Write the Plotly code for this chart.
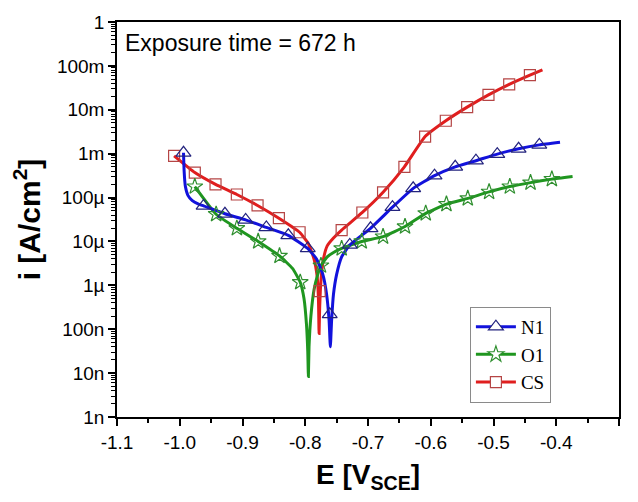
import plotly.graph_objects as go

# ---- data (E in V_SCE, log10 of i in A/cm^2) ----
# CS
cs_line_E = [-1.009, -0.976, -0.943, -0.909, -0.876, -0.842, -0.809, -0.795, -0.786, -0.781,
             -0.779, -0.778, -0.777, -0.775, -0.771, -0.765, -0.755, -0.742, -0.709, -0.676,
             -0.642, -0.609, -0.576, -0.542, -0.508, -0.475, -0.442, -0.422]
cs_line_logi = [-3.05, -3.43, -3.70, -3.93, -4.18, -4.47, -4.79, -5.05, -5.40, -5.80,
                -6.30, -7.10, -6.50, -5.90, -5.40, -5.10, -4.92, -4.74, -4.34, -3.88,
                -3.30, -2.61, -2.25, -1.94, -1.66, -1.42, -1.21, -1.09]
cs_mark_E = [-1.009, -0.976, -0.943, -0.909, -0.876, -0.842, -0.809, -0.777, -0.742, -0.709,
             -0.676, -0.642, -0.609, -0.576, -0.542, -0.508, -0.475, -0.442]
cs_mark_logi = [-3.05, -3.43, -3.70, -3.93, -4.18, -4.47, -4.79, -6.13, -4.74, -4.34,
                -3.88, -3.30, -2.61, -2.25, -1.94, -1.66, -1.42, -1.21]

# N1
n1_line_E = [-0.994, -0.993, -0.991, -0.987, -0.980, -0.970, -0.962, -0.928, -0.895, -0.862,
             -0.827, -0.796, -0.782, -0.772, -0.766, -0.762, -0.760, -0.758, -0.755, -0.750,
             -0.742, -0.729, -0.696, -0.661, -0.628, -0.594, -0.561, -0.528, -0.494, -0.460,
             -0.427, -0.394]
n1_line_logi = [-2.98, -3.40, -3.75, -3.95, -4.07, -4.15, -4.19, -4.37, -4.51, -4.68,
                -4.86, -5.16, -5.40, -5.75, -6.20, -6.80, -7.40, -6.80, -6.20, -5.75,
                -5.35, -5.08, -4.70, -4.22, -3.79, -3.50, -3.30, -3.16, -3.01, -2.89,
                -2.80, -2.74]
n1_mark_E = [-0.994, -0.962, -0.928, -0.895, -0.862, -0.827, -0.796, -0.761, -0.729, -0.696,
             -0.661, -0.628, -0.594, -0.561, -0.528, -0.494, -0.460, -0.427]
n1_mark_logi = [-2.98, -4.19, -4.37, -4.51, -4.68, -4.86, -5.16, -6.66, -5.08, -4.70,
                -4.22, -3.79, -3.50, -3.30, -3.16, -3.01, -2.89, -2.80]

# O1
o1_line_E = [-0.976, -0.942, -0.909, -0.875, -0.841, -0.820, -0.808, -0.802, -0.798, -0.796,
             -0.795, -0.794, -0.791, -0.786, -0.780, -0.775, -0.765, -0.755, -0.742, -0.710,
             -0.676, -0.641, -0.608, -0.575, -0.541, -0.507, -0.474, -0.441, -0.407, -0.374]
o1_line_logi = [-3.75, -4.38, -4.70, -5.00, -5.33, -5.62, -5.93, -6.30, -6.90, -7.50,
                -8.08, -7.40, -6.70, -6.10, -5.75, -5.55, -5.35, -5.25, -5.16, -5.00,
                -4.89, -4.66, -4.36, -4.15, -4.02, -3.87, -3.75, -3.66, -3.58, -3.52]
o1_mark_E = [-0.976, -0.942, -0.909, -0.875, -0.841, -0.808, -0.775, -0.742, -0.710, -0.676,
             -0.641, -0.608, -0.575, -0.541, -0.507, -0.474, -0.441, -0.407]
o1_mark_logi = [-3.75, -4.38, -4.70, -5.00, -5.33, -5.93, -5.55, -5.16, -5.00, -4.89,
                -4.66, -4.36, -4.15, -4.02, -3.87, -3.75, -3.66, -3.58]

y_tickvals = [1e-9, 1e-8, 1e-7, 1e-6, 1e-5, 1e-4, 1e-3, 1e-2, 1e-1, 1]
y_ticktext = ["1n", "10n", "100n", "1µ", "10µ", "100µ", "1m", "10m", "100m", "1"]
x_tickvals = [-1.1, -1.0, -0.9, -0.8, -0.7, -0.6, -0.5, -0.4, -0.3]
x_ticktext = ["-1.1", "-1.0", "-0.9", "-0.8", "-0.7", "-0.6", "-0.5", "-0.4", "-0.3"]

series = [
    ("N1", n1_line_E, n1_line_logi, n1_mark_E, n1_mark_logi, "#1212dc", "triangle-up-open", "#23237e", 13),
    ("O1", o1_line_E, o1_line_logi, o1_mark_E, o1_mark_logi, "#1f961f", "star-open", "#2f8f2f", 12),
    ("CS", cs_line_E, cs_line_logi, cs_mark_E, cs_mark_logi, "#e01e1e", "square-open", "#b54545", 11),
]

fig = go.Figure()
for name, lE, lY, mE, mY, col, sym, mcol, msz in [series[2], series[1], series[0]]:
    fig.add_trace(go.Scatter(
        x=lE, y=[10 ** v for v in lY], mode="lines",
        line=dict(color=col, width=3, shape="spline", smoothing=0.4),
        showlegend=False, hoverinfo="skip"))
for name, lE, lY, mE, mY, col, sym, mcol, msz in [series[2], series[1], series[0]]:
    fig.add_trace(go.Scatter(
        x=mE, y=[10 ** v for v in mY], mode="markers",
        marker=dict(symbol=sym, size=msz, color=mcol, line=dict(width=1.2, color=mcol)),
        showlegend=False))
for name, lE, lY, mE, mY, col, sym, mcol, msz in series:
    fig.add_trace(go.Scatter(
        x=[None], y=[None], mode="lines+markers", name=name,
        line=dict(color=col, width=3),
        marker=dict(symbol=sym.replace("-open", ""), size=msz, color="white",
                    line=dict(width=1.2, color=mcol))))

minor_y = [k * 10.0 ** e for e in range(-9, 0) for k in range(2, 10)]

# page body has an 8px margin: figure is sized/offset to compensate
fig.update_layout(
    width=622, height=486,
    margin=dict(l=109, r=11, t=14, b=77),
    paper_bgcolor="white", plot_bgcolor="white",
    font=dict(family="Liberation Sans, Arial", color="black"),
    showlegend=True,
    legend=dict(x=0.703, y=0.036, xanchor="left", yanchor="bottom",
                bordercolor="#8a8a8a", borderwidth=1, bgcolor="white",
                font=dict(family="Liberation Serif, Times New Roman", size=19, color="black"),
                tracegroupgap=0, itemwidth=40),
    xaxis=dict(range=[-1.1, -0.3], tickmode="array", tickvals=x_tickvals, ticktext=x_ticktext,
               automargin=False,
               ticks="outside", ticklen=7, tickwidth=1.5, tickcolor="black",
               showline=True, linecolor="black", linewidth=1.5, mirror=True,
               showgrid=False, zeroline=False,
               tickfont=dict(size=19),
               minor=dict(tickmode="array",
                          tickvals=[-1.05, -0.95, -0.85, -0.75, -0.65, -0.55, -0.45, -0.35],
                          ticks="outside", ticklen=4, tickwidth=1.5, tickcolor="black", showgrid=False),
               title=dict(text="<b>E [V<sub>SCE</sub>]</b>", font=dict(size=28), standoff=21)),
    yaxis=dict(type="log", range=[-9, 0], tickmode="array", tickvals=y_tickvals, ticktext=y_ticktext,
               automargin=False,
               ticks="outside", ticklen=7, tickwidth=1.5, tickcolor="black",
               showline=True, linecolor="black", linewidth=1.5, mirror=True,
               showgrid=False, zeroline=False,
               tickfont=dict(size=19),
               minor=dict(tickmode="array", tickvals=minor_y,
                          ticks="outside", ticklen=4, tickwidth=1, tickcolor="black", showgrid=False),
               title=dict(text="<b>i [A/cm<sup>2</sup>]</b>", font=dict(size=30), standoff=8)),
    annotations=[dict(text="Exposure time = 672 h", x=0.012, y=0.985, xref="paper", yref="paper",
                      xanchor="left", yanchor="top", showarrow=False,
                      font=dict(size=23, color="black"))],
)

fig.write_html("out.html")
